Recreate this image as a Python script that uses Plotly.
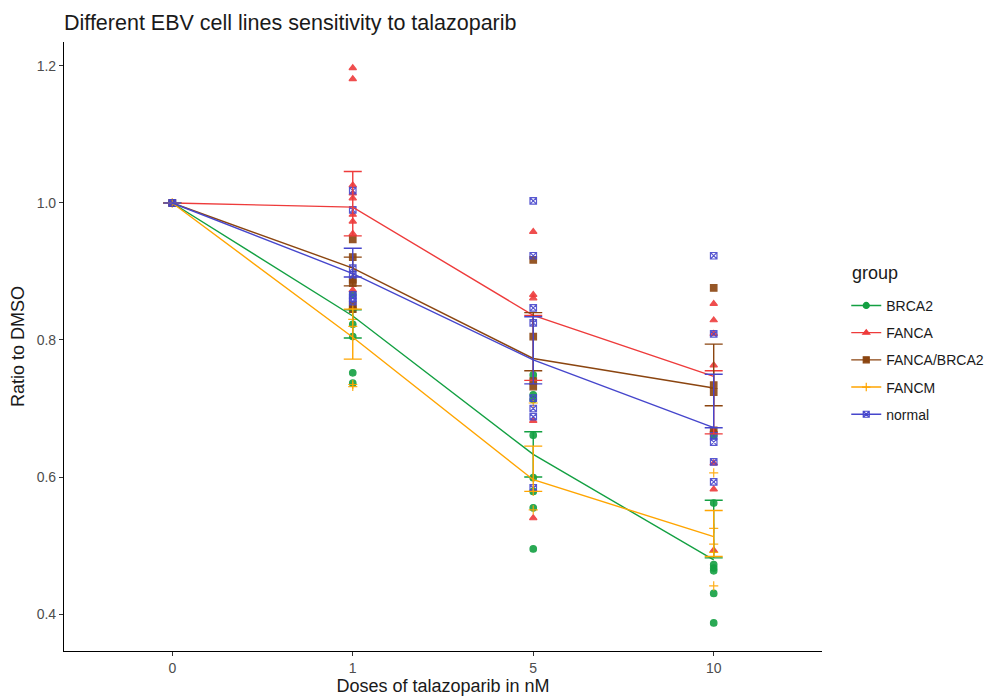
import plotly.graph_objects as go

doses = ["0", "1", "5", "10"]
groups = ["BRCA2", "FANCA", "FANCA/BRCA2", "FANCM", "normal"]

# line values (group means) per dose
mean_BRCA2 = [1.0, 0.835, 0.633, 0.479]
mean_FANCA = [1.0, 0.994, 0.836, 0.747]
mean_FANCA_BRCA2 = [1.0, 0.905, 0.773, 0.730]
mean_FANCM = [1.0, 0.804, 0.596, 0.513]
mean_normal = [1.0, 0.897, 0.771, 0.672]

# error bar upper / lower ends per dose
upper_BRCA2 = [1.0, 0.844, 0.666, 0.566]
lower_BRCA2 = [1.0, 0.803, 0.600, 0.482]
upper_FANCA = [1.0, 1.046, 0.836, 0.755]
lower_FANCA = [1.0, 0.952, 0.741, 0.663]
upper_FANCA_BRCA2 = [1.0, 0.921, 0.840, 0.794]
lower_FANCA_BRCA2 = [1.0, 0.879, 0.755, 0.704]
upper_FANCM = [1.0, 0.845, 0.645, 0.551]
lower_FANCM = [1.0, 0.772, 0.579, 0.484]
upper_normal = [1.0, 0.934, 0.834, 0.750]
lower_normal = [1.0, 0.892, 0.736, 0.672]

# individual replicate points
pts_BRCA2_dose = ["0", "0", "1", "1", "1", "1", "1", "1",
                  "5", "5", "5", "5", "5", "5", "5", "5",
                  "10", "10", "10", "10", "10", "10", "10"]
pts_BRCA2_ratio = [1.0, 1.0, 0.867, 0.845, 0.823, 0.805, 0.752, 0.737,
                   0.749, 0.720, 0.713, 0.661, 0.599, 0.579, 0.555, 0.495,
                   0.661, 0.562, 0.472, 0.467, 0.463, 0.430, 0.387]
pts_FANCA_dose = ["0", "0", "1", "1", "1", "1", "1", "1", "1", "1", "1",
                  "5", "5", "5", "5", "5",
                  "10", "10", "10", "10", "10", "10", "10", "10"]
pts_FANCA_ratio = [1.0, 1.0, 1.197, 1.181, 1.026, 1.014, 1.007, 0.983, 0.973, 0.955, 0.873,
                   0.958, 0.866, 0.861, 0.682, 0.540,
                   0.853, 0.829, 0.809, 0.763, 0.668, 0.620, 0.582, 0.493]
pts_FANCA_BRCA2_dose = ["0", "0", "1", "1", "1", "1", "1", "1",
                        "5", "5", "5", "5",
                        "10", "10", "10", "10"]
pts_FANCA_BRCA2_ratio = [1.0, 1.0, 0.947, 0.921, 0.888, 0.883, 0.851, 0.845,
                         0.917, 0.805, 0.740, 0.732,
                         0.876, 0.734, 0.724, 0.668]
pts_FANCM_dose = ["0", "0", "1", "1", "1", "1", "1",
                  "5", "5", "5", "5",
                  "10", "10", "10", "10", "10"]
pts_FANCM_ratio = [1.0, 1.0, 0.845, 0.830, 0.820, 0.735, 0.732,
                   0.708, 0.600, 0.579, 0.552,
                   0.606, 0.525, 0.502, 0.490, 0.441]
pts_normal_dose = ["0", "0", "1", "1", "1", "1", "1", "1", "1",
                   "5", "5", "5", "5", "5", "5", "5", "5",
                   "10", "10", "10", "10", "10", "10"]
pts_normal_ratio = [1.0, 1.0, 1.018, 0.990, 0.905, 0.895, 0.866, 0.861, 0.856,
                    1.003, 0.923, 0.847, 0.825, 0.715, 0.700, 0.688, 0.584,
                    0.923, 0.809, 0.660, 0.651, 0.622, 0.593]

colors = ["#13A042", "#EE3B3B", "#8B4510", "#FFA500", "#4646CC"]
symbols = ["circle", "triangle-up", "square", "cross-thin-open", "square-x-open"]

means = [mean_BRCA2, mean_FANCA, mean_FANCA_BRCA2, mean_FANCM, mean_normal]
uppers = [upper_BRCA2, upper_FANCA, upper_FANCA_BRCA2, upper_FANCM, upper_normal]
lowers = [lower_BRCA2, lower_FANCA, lower_FANCA_BRCA2, lower_FANCM, lower_normal]
pts_x = [pts_BRCA2_dose, pts_FANCA_dose, pts_FANCA_BRCA2_dose, pts_FANCM_dose, pts_normal_dose]
pts_y = [pts_BRCA2_ratio, pts_FANCA_ratio, pts_FANCA_BRCA2_ratio, pts_FANCM_ratio, pts_normal_ratio]

fig = go.Figure()

# replicate points
for g, c, s, xs, ys in zip(groups, colors, symbols, pts_x, pts_y):
    fig.add_trace(go.Scatter(
        x=xs, y=ys, mode="markers", showlegend=False, legendgroup=g,
        marker=dict(color=c, symbol=s, size=6.5, opacity=0.9,
                    line=dict(color=c, width=1.2)),
        hoverinfo="skip"))

# mean lines with error bars
for g, c, m, u, lo in zip(groups, colors, means, uppers, lowers):
    fig.add_trace(go.Scatter(
        x=doses, y=m, mode="lines", showlegend=False, legendgroup=g,
        line=dict(color=c, width=1.4),
        error_y=dict(type="data", symmetric=False,
                     array=[a - b for a, b in zip(u, m)],
                     arrayminus=[b - a for a, b in zip(lo, m)],
                     color=c, thickness=1.4, width=9)))

# legend entries
for g, c, s in zip(groups, colors, symbols):
    fig.add_trace(go.Scatter(
        x=[None], y=[None], mode="lines+markers", name=g, legendgroup=g,
        line=dict(color=c, width=1.4),
        marker=dict(color=c, symbol=s, size=6, line=dict(color=c, width=1.2))))

fig.add_annotation(text="group", xref="paper", yref="paper",
                   x=1.037, y=0.621, xanchor="left", yanchor="middle",
                   showarrow=False, font=dict(size=18, color="#1a1a1a"))

fig.update_layout(
    width=994, height=698,
    paper_bgcolor="white", plot_bgcolor="white",
    margin=dict(l=56, r=180, t=34, b=55),
    font=dict(family="Liberation Sans, Arial, sans-serif", color="#1a1a1a"),
    title=dict(text="Different EBV cell lines sensitivity to talazoparib",
               x=56 / 994, xanchor="left", xref="container",
               y=1 - 14 / 698, yanchor="middle", yref="container",
               font=dict(size=21.5, color="#1a1a1a")),
    xaxis=dict(type="category", categoryorder="array", categoryarray=doses,
               range=[-0.6, 3.6], showgrid=False, zeroline=False, automargin=False,
               showline=True, linecolor="black", linewidth=1.2,
               ticks="outside", ticklen=4, tickcolor="#333333",
               tickfont=dict(size=14, color="#4d4d4d"),
               title=dict(text="Doses of talazoparib in nM", standoff=3,
                          font=dict(size=18, color="#1a1a1a"))),
    yaxis=dict(range=[0.346, 1.235], tickvals=[0.4, 0.6, 0.8, 1.0, 1.2],
               ticktext=["0.4", "0.6", "0.8", "1.0", "1.2"],
               showgrid=False, zeroline=False, automargin=False,
               showline=True, linecolor="black", linewidth=1.2,
               ticks="outside", ticklen=4, tickcolor="#333333",
               tickfont=dict(size=14, color="#4d4d4d"),
               title=dict(text="Ratio to DMSO", standoff=8,
                          font=dict(size=18, color="#1a1a1a"))),
    legend=dict(x=1.032, xanchor="left", y=0.593, yanchor="top",
                font=dict(size=14, color="#1a1a1a"),
                tracegroupgap=6, itemwidth=30, bgcolor="rgba(0,0,0,0)"),
)

fig.write_html("out.html")
